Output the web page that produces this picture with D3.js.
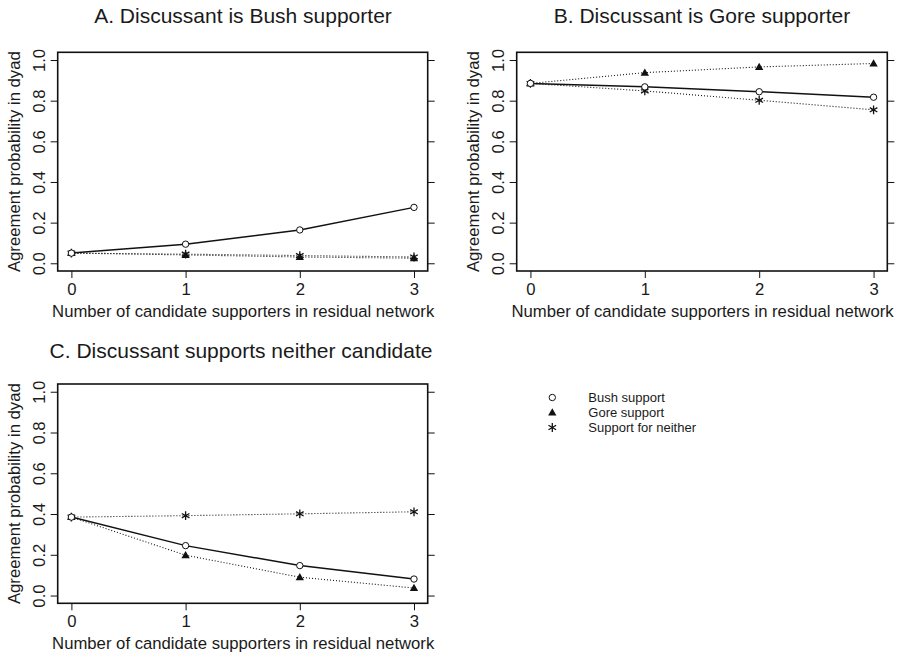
<!DOCTYPE html>
<html>
<head>
<meta charset="utf-8">
<script src="https://cdn.jsdelivr.net/npm/d3@7"></script>
<style>
  html, body { margin: 0; padding: 0; background: #fff; }
  svg { display: block; }
  text { font-family: "Liberation Sans", Arial, Helvetica, sans-serif; fill: #1a1a1a; }
</style>
</head>
<body>
<svg id="chart" width="905" height="660"></svg>
<script>
// Number of candidate supporters in the residual network
const supporters = [0, 1, 2, 3];
const xTickLabels = ["0", "1", "2", "3"];
const yTickValues = [0, 0.2, 0.4, 0.6, 0.8, 1.0];
const yTickLabels = ["0.0", "0.2", "0.4", "0.6", "0.8", "1.0"];

const panelTitles = [
  "A. Discussant is Bush supporter",
  "B. Discussant is Gore supporter",
  "C. Discussant supports neither candidate"
];
const xAxisTitle = "Number of candidate supporters in residual network";
const yAxisTitle = "Agreement probability in dyad";

const seriesNames = ["Bush support", "Gore support", "Support for neither"];

// Panel A: discussant is a Bush supporter
const bushA    = [0.050, 0.094, 0.164, 0.275];
const goreA    = [0.050, 0.041, 0.031, 0.025];
const neitherA = [0.050, 0.045, 0.038, 0.031];

// Panel B: discussant is a Gore supporter
const bushB    = [0.885, 0.868, 0.844, 0.817];
const goreB    = [0.885, 0.938, 0.966, 0.983];
const neitherB = [0.885, 0.848, 0.802, 0.755];

// Panel C: discussant supports neither candidate
const bushC    = [0.385, 0.245, 0.147, 0.081];
const goreC    = [0.385, 0.198, 0.090, 0.037];
const neitherC = [0.385, 0.392, 0.401, 0.411];

const svg = d3.select("#chart");

const panels = [
  { title: panelTitles[0], series: [bushA, goreA, neitherA],
    box: { left: 57.7, right: 427.7, top: 52.3, bottom: 271 }, titleX: 243, titleY: 23 },
  { title: panelTitles[1], series: [bushB, goreB, neitherB],
    box: { left: 516.7, right: 887.3, top: 52.3, bottom: 271 }, titleX: 702, titleY: 23 },
  { title: panelTitles[2], series: [bushC, goreC, neitherC],
    box: { left: 57.7, right: 427.7, top: 384, bottom: 603.3 }, titleX: 241, titleY: 358 }
];

// marker drawing per series: 0 = hollow circle, 1 = filled triangle, 2 = asterisk
function drawMarker(g, kind, cx, cy) {
  if (kind === 0) {
    g.append("circle").attr("cx", cx).attr("cy", cy).attr("r", 3.2)
      .attr("fill", "#fff").attr("stroke", "#111").attr("stroke-width", 1);
  } else if (kind === 1) {
    g.append("path")
      .attr("d", d3.symbol(d3.symbolTriangle, 30)())
      .attr("transform", `translate(${cx},${cy + 0.6})`)
      .attr("fill", "#111");
  } else {
    const r = 4.4;
    const p = d3.path();
    for (let k = 0; k < 3; k++) {
      const a = Math.PI / 2 + k * Math.PI / 3;
      p.moveTo(cx + r * Math.cos(a), cy + r * Math.sin(a));
      p.lineTo(cx - r * Math.cos(a), cy - r * Math.sin(a));
    }
    g.append("path").attr("d", p.toString())
      .attr("stroke", "#111").attr("stroke-width", 1.3).attr("fill", "none");
  }
}

const lineStyles = [
  { dash: null, width: 1.5 },
  { dash: "1,2", width: 1.1 },
  { dash: "1,2", width: 1.1 }
];

panels.forEach(panel => {
  const b = panel.box;
  const x = d3.scaleLinear().domain([-0.12, 3.12]).range([b.left, b.right]);
  const y = d3.scaleLinear().domain([-0.038, 1.038]).range([b.bottom, b.top]);
  const g = svg.append("g");

  // title
  g.append("text").attr("x", panel.titleX).attr("y", panel.titleY)
    .attr("text-anchor", "middle").attr("font-size", 21).text(panel.title);

  // left axis with rotated labels
  const left = g.append("g").attr("transform", `translate(${b.left},0)`)
    .call(d3.axisLeft(y).tickValues(yTickValues).tickSize(7)
      .tickFormat((d, i) => yTickLabels[i]));
  left.select(".domain").remove();
  left.selectAll(".tick line").attr("stroke", "#111").attr("stroke-width", 1);
  left.selectAll(".tick text")
    .attr("x", null).attr("dy", null)
    .attr("font-size", 16.7).attr("font-family", null).attr("fill", "#1a1a1a")
    .attr("text-anchor", "middle")
    .attr("transform", "translate(-12.7,0) rotate(-90)");

  // right axis: ticks only
  const right = g.append("g").attr("transform", `translate(${b.right},0)`)
    .call(d3.axisRight(y).tickValues(yTickValues).tickSize(7).tickFormat(""));
  right.select(".domain").remove();
  right.selectAll(".tick line").attr("stroke", "#111").attr("stroke-width", 1);

  // bottom axis
  const bottom = g.append("g").attr("transform", `translate(0,${b.bottom})`)
    .call(d3.axisBottom(x).tickValues(supporters).tickSize(7)
      .tickFormat((d, i) => xTickLabels[i]));
  bottom.select(".domain").remove();
  bottom.selectAll(".tick line").attr("stroke", "#111").attr("stroke-width", 1);
  bottom.selectAll(".tick text")
    .attr("y", 24).attr("dy", null)
    .attr("font-size", 16.7).attr("font-family", null).attr("fill", "#1a1a1a");

  // axis titles
  g.append("text").attr("x", (b.left + b.right) / 2 + 0.5).attr("y", b.bottom + 46)
    .attr("text-anchor", "middle").attr("font-size", 16.7).text(xAxisTitle);
  g.append("text")
    .attr("transform", `translate(${b.left - 37.7},${(y(0) + y(1)) / 2}) rotate(-90)`)
    .attr("text-anchor", "middle").attr("font-size", 16.7).text(yAxisTitle);

  // series lines
  const line = d3.line().x((d, i) => x(supporters[i])).y(d => y(d));
  [2, 1, 0].forEach(s => {
    const st = lineStyles[s];
    g.append("path").datum(panel.series[s])
      .attr("d", line).attr("fill", "none")
      .attr("stroke", "#111").attr("stroke-width", st.width)
      .attr("stroke-dasharray", st.dash);
  });

  // markers
  [2, 1, 0].forEach(s => {
    panel.series[s].forEach((v, i) => drawMarker(g, s, x(supporters[i]), y(v)));
  });

  // plot frame
  g.append("rect").attr("x", b.left).attr("y", b.top)
    .attr("width", b.right - b.left).attr("height", b.bottom - b.top)
    .attr("fill", "none").attr("stroke", "#111").attr("stroke-width", 1.6);
});

// legend
const legend = svg.append("g");
seriesNames.forEach((name, i) => {
  const cy = 397.5 + i * 15;
  drawMarker(legend, i, 552.3, cy);
  legend.append("text").attr("x", 588.3).attr("y", cy + 4.4)
    .attr("font-size", 13).text(name);
});
</script>
</body>
</html>
